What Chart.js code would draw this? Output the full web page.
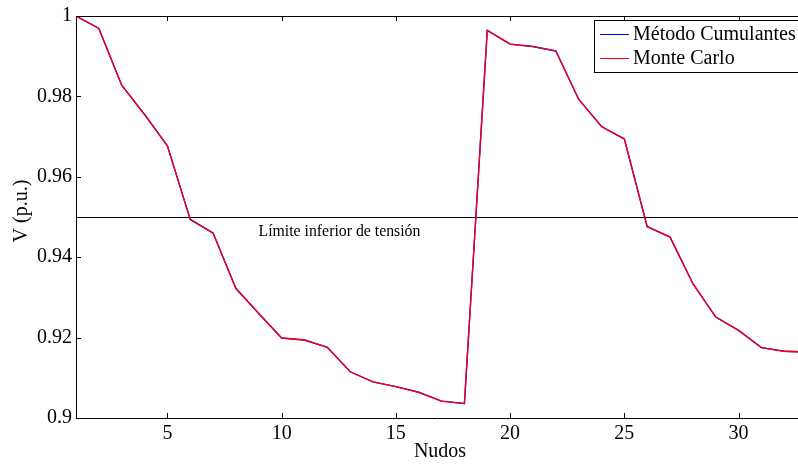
<!DOCTYPE html>
<html><head><meta charset="utf-8">
<script src="https://cdn.jsdelivr.net/npm/chart.js@4.4.0/dist/chart.umd.min.js"></script>
<style>html,body{margin:0;padding:0;background:#fff;overflow:hidden}#wrap{width:798px;height:465px;position:relative}</style>
</head><body><div id="wrap"><canvas id="c" width="798" height="465"></canvas></div>
<script>
const nudos = [1,2,3,4,5,6,7,8,9,10,11,12,13,14,15,16,17,18,19,20,21,22,23,24,25,26,27,28,29,30,31,32,33];
const cumulantes = [1.0000,0.9969,0.9828,0.9755,0.9677,0.9494,0.9460,0.9322,0.9260,0.9199,0.9194,0.9176,0.9115,0.9090,0.9078,0.9064,0.9042,0.9036,0.9964,0.9930,0.9924,0.9913,0.9793,0.9725,0.9694,0.9476,0.9450,0.9334,0.9251,0.9218,0.9175,0.9166,0.9164];
const monteCarlo = [1.0000,0.9969,0.9828,0.9755,0.9677,0.9494,0.9460,0.9322,0.9260,0.9199,0.9194,0.9176,0.9115,0.9090,0.9078,0.9064,0.9042,0.9036,0.9964,0.9930,0.9924,0.9913,0.9793,0.9725,0.9694,0.9476,0.9450,0.9334,0.9251,0.9218,0.9175,0.9166,0.9164];
const xTicks = [5,10,15,20,25,30];
const yTicks = [0.9,0.92,0.94,0.96,0.98,1];
const limite = 0.95;
const seriesLabels = ['Método Cumulantes','Monte Carlo'];
const limiteLabel = 'Límite inferior de tensión';
const xTitle = 'Nudos';
const yTitle = 'V (p.u.)';

const FONT = "'Liberation Serif', 'Times New Roman', serif";

const pts = (arr) => arr.map((v,i)=>({x:nudos[i], y:v}));

const decor = {
  id:'decor',
  beforeDatasetsDraw(chart){
    const {ctx, chartArea:a, scales:{y}} = chart;
    ctx.save();
    ctx.strokeStyle = '#000';
    ctx.lineWidth = 1;
    const py = Math.round(y.getPixelForValue(limite)) + 0.5;
    ctx.beginPath();
    ctx.moveTo(a.left, py); ctx.lineTo(a.right, py);
    ctx.stroke();
    ctx.restore();
  },
  afterDatasetsDraw(chart){
    const {ctx, chartArea:a, scales:{x,y}} = chart;
    ctx.save();
    ctx.strokeStyle = '#000';
    ctx.lineWidth = 1;
    // top border
    ctx.beginPath();
    ctx.moveTo(a.left, Math.round(a.top)+0.5);
    ctx.lineTo(a.right, Math.round(a.top)+0.5);
    ctx.stroke();
    // inward ticks
    ctx.beginPath();
    xTicks.forEach(v=>{
      const px = Math.round(x.getPixelForValue(v))+0.5;
      ctx.moveTo(px, a.bottom); ctx.lineTo(px, a.bottom-5);
      ctx.moveTo(px, a.top); ctx.lineTo(px, a.top+5);
    });
    yTicks.forEach(v=>{
      const py = Math.round(y.getPixelForValue(v))+0.5;
      ctx.moveTo(a.left, py); ctx.lineTo(a.left+5, py);
    });
    ctx.stroke();
    // limit label
    ctx.fillStyle = '#000';
    ctx.font = '15.8px ' + FONT;
    ctx.textAlign = 'center';
    ctx.textBaseline = 'middle';
    ctx.fillText(limiteLabel, x.getPixelForValue(12.53), y.getPixelForValue(limite)+15);
    // axis titles
    ctx.font = '20px ' + FONT;
    ctx.fillText(xTitle, 440, 452);
    ctx.save();
    ctx.translate(22, 211);
    ctx.rotate(-Math.PI/2);
    ctx.fillText(yTitle, 0, 0);
    ctx.restore();
    // legend
    const bx = 594.5, by = 20.5, bw = 210, bh = 52;
    ctx.fillStyle = '#fff';
    ctx.fillRect(bx, by, bw, bh);
    ctx.strokeRect(bx, by, bw, bh);
    const colors = [chart.data.datasets[0].borderColor, chart.data.datasets[1].borderColor];
    const ys = [34.5, 58.5];
    ctx.textAlign = 'left';
    for (let i=0;i<2;i++){
      ctx.strokeStyle = colors[i];
      ctx.lineWidth = 1;
      ctx.beginPath();
      ctx.moveTo(600, ys[i]); ctx.lineTo(629, ys[i]);
      ctx.stroke();
      ctx.fillStyle = '#000';
      ctx.fillText(seriesLabels[i], 633, ys[i]+0.5);
    }
    ctx.restore();
  }
};

new Chart(document.getElementById('c'), {
  type:'line',
  data:{
    datasets:[
      {label:seriesLabels[0], data:pts(cumulantes), borderColor:'#0000ff', borderWidth:1.4, pointRadius:0, tension:0, fill:false, order:2},
      {label:seriesLabels[1], data:pts(monteCarlo), borderColor:'#ff0000', borderWidth:1.3, pointRadius:0, tension:0, fill:false, order:1}
    ]
  },
  options:{
    responsive:false,
    animation:false,
    devicePixelRatio:1,
    layout:{padding:{top:15,left:0,right:0,bottom:0}},
    plugins:{legend:{display:false}, tooltip:{enabled:false}},
    scales:{
      x:{
        type:'linear', min:1, max:32.6,
        afterBuildTicks(s){ s.ticks = xTicks.map(v=>({value:v})); },
        afterFit(s){ s.height = 47; },
        grid:{display:true, drawOnChartArea:false, drawTicks:false},
        border:{display:true, color:'#000', width:1},
        ticks:{font:{family:FONT,size:20}, color:'#000', padding:4, maxRotation:0, callback:v=>String(v)}
      },
      y:{
        type:'linear', min:0.9, max:1,
        afterBuildTicks(s){ s.ticks = yTicks.map(v=>({value:v})); },
        afterFit(s){ s.width = 76; },
        grid:{display:true, drawOnChartArea:false, drawTicks:false},
        border:{display:true, color:'#000', width:1},
        ticks:{font:{family:FONT,size:20}, color:'#000', padding:4, callback:v=>String(+v.toFixed(2))}
      }
    }
  },
  plugins:[decor]
});
</script>
</body></html>
